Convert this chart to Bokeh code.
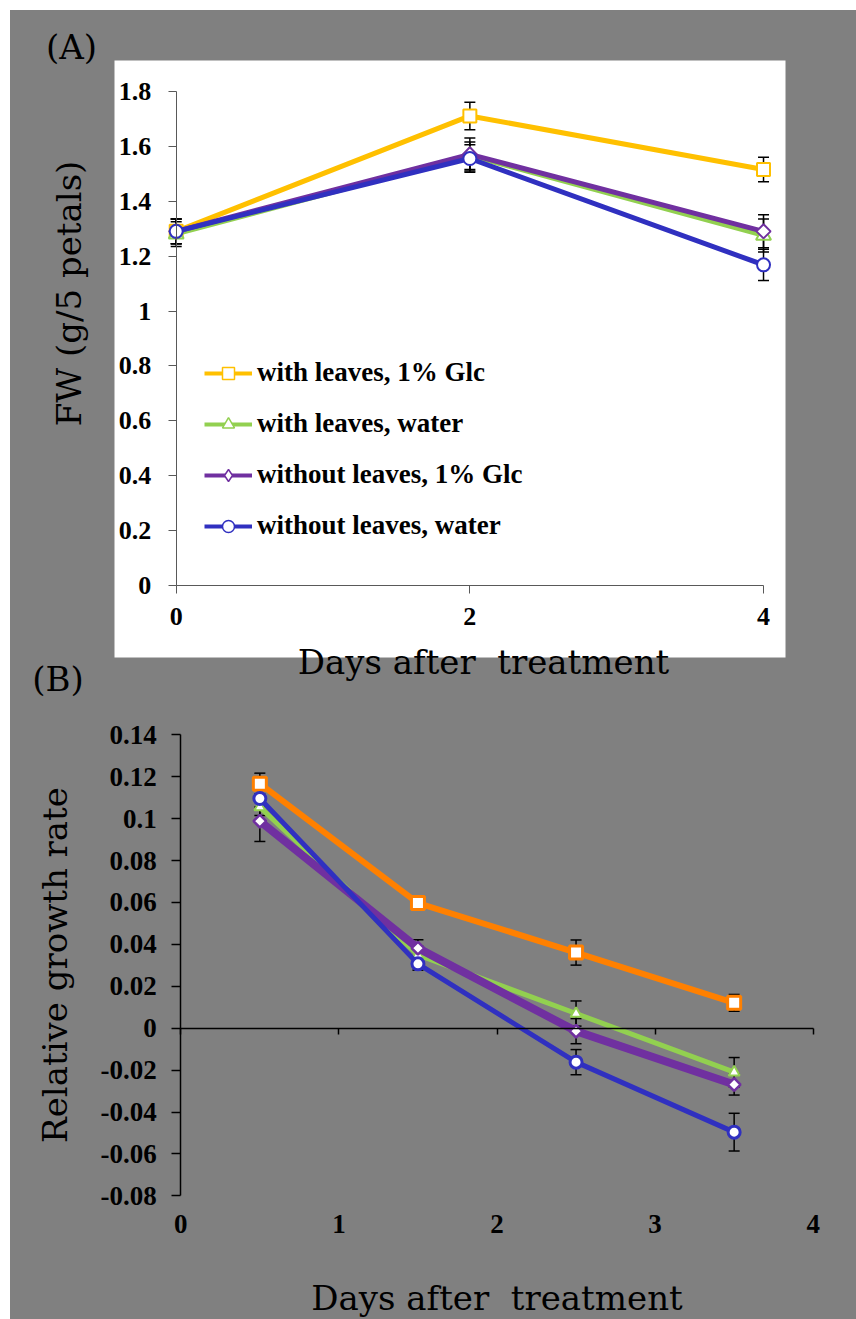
from bokeh.plotting import figure
from bokeh.models import (LinearAxis, FixedTicker, Whisker, TeeHead, ColumnDataSource,
                          BoxAnnotation, Label, Legend, LegendItem, Range1d)
from bokeh.layouts import column
from bokeh.embed import file_html
from bokeh.resources import INLINE

# ---------------- data: panel A (fresh weight) ----------------
days_a = [0, 2, 4]
fw_leaves_glc = [1.29, 1.71, 1.515]
fw_leaves_glc_err = [0.045, 0.05, 0.045]
fw_leaves_water = [1.28, 1.565, 1.275]
fw_leaves_water_err = [0.045, 0.05, 0.06]
fw_noleaves_glc = [1.29, 1.57, 1.29]
fw_noleaves_glc_err = [0.045, 0.06, 0.06]
fw_noleaves_water = [1.29, 1.555, 1.168]
fw_noleaves_water_err = [0.045, 0.05, 0.057]

# ---------------- data: panel B (relative growth rate) ----------------
days_b = [0.5, 1.5, 2.5, 3.5]
rgr_leaves_glc = [0.1167, 0.0597, 0.0361, 0.0121]
rgr_leaves_glc_err = [0.005, 0.002, 0.006, 0.004]
rgr_leaves_water = [0.1055, 0.035, 0.007, -0.021]
rgr_leaves_water_err = [0.004, 0.004, 0.006, 0.007]
rgr_noleaves_glc = [0.0988, 0.0382, -0.0014, -0.0269]
rgr_noleaves_glc_err = [0.0097, 0.004, 0.006, 0.005]
rgr_noleaves_water = [0.1096, 0.0307, -0.0162, -0.0496]
rgr_noleaves_water_err = [0.004, 0.003, 0.006, 0.009]

series_labels = ["with leaves, 1% Glc", "with leaves, water",
                 "without leaves, 1% Glc", "without leaves, water"]

# tick labels
x_ticks_a = [0, 2, 4]
x_tick_labels_a = ["0", "2", "4"]
y_ticks_a = [0, 0.2, 0.4, 0.6, 0.8, 1, 1.2, 1.4, 1.6, 1.8]
y_tick_labels_a = ["0", "0.2", "0.4", "0.6", "0.8", "1", "1.2", "1.4", "1.6", "1.8"]
x_ticks_b = [0, 1, 2, 3, 4]
x_tick_labels_b = ["0", "1", "2", "3", "4"]
y_ticks_b = [-0.08, -0.06, -0.04, -0.02, 0, 0.02, 0.04, 0.06, 0.08, 0.1, 0.12, 0.14]
y_tick_labels_b = ["-0.08", "-0.06", "-0.04", "-0.02", "0", "0.02", "0.04", "0.06",
                   "0.08", "0.1", "0.12", "0.14"]

# ---------------- style ----------------
GRAY = "#808080"
YELLOW = "#FFC000"
ORANGE = "#FF8000"
GREEN = "#92D050"
PURPLE = "#7030A0"
BLUE = "#3030C0"
TICK_FONT = "Liberation Serif"
TITLE_FONT = "DejaVu Serif"
NAN = float("nan")

W = 846
HA = 692
HB = 617


def base_figure(h, xr, yr):
    p = figure(width=W, height=h, x_range=xr, y_range=yr, output_backend="svg",
               toolbar_location=None, x_axis_location=None, y_axis_location=None,
               min_border=0, background_fill_color=GRAY, border_fill_color=GRAY,
               outline_line_color=None)
    p.grid.visible = False
    return p


def style_axis(ax, color, lw, tick_out, font_size, standoff):
    ax.axis_line_color = color
    ax.axis_line_width = lw
    ax.major_tick_line_color = color
    ax.major_tick_line_width = lw
    ax.major_tick_out = tick_out
    ax.major_tick_in = 0
    ax.minor_tick_out = 0
    ax.minor_tick_in = 0
    ax.major_label_text_font = TICK_FONT
    ax.major_label_text_font_style = "bold"
    ax.major_label_text_font_size = font_size
    ax.major_label_text_color = "black"
    ax.major_label_standoff = standoff


def set_title(ax, text, standoff):
    ax.axis_label = text
    ax.axis_label_text_font = TITLE_FONT
    ax.axis_label_text_font_style = "normal"
    ax.axis_label_text_font_size = "34px"
    ax.axis_label_text_color = "black"
    ax.axis_label_standoff = standoff


def title_axis(loc, bounds, text, standoff):
    ax = LinearAxis(fixed_location=loc, bounds=bounds, ticker=FixedTicker(ticks=[]))
    ax.axis_line_color = None
    ax.major_tick_out = 0
    ax.major_tick_in = 0
    ax.minor_tick_out = 0
    set_title(ax, text, standoff)
    return ax


def whisker(p, xs, ys, errs):
    src = ColumnDataSource(dict(x=xs, upper=[y + e for y, e in zip(ys, errs)],
                                lower=[y - e for y, e in zip(ys, errs)]))
    w = Whisker(source=src, base="x", upper="upper", lower="lower", dimension="height",
                line_color="black", line_width=1.5, level="underlay",
                upper_head=TeeHead(size=11, line_color="black", line_width=1.5),
                lower_head=TeeHead(size=11, line_color="black", line_width=1.5))
    p.add_layout(w)


# ================= Panel A =================
ax0, axs = 165.7, 146.83      # pixel of x=0 (from left), px per day
ay0, ays = 575.3, 274.78      # pixel of y=0 (from top), px per g
pA = base_figure(HA, Range1d(-ax0 / axs, (W - ax0) / axs),
                 Range1d(-(HA - ay0) / ays, ay0 / ays))

# white chart area
pA.add_layout(BoxAnnotation(left=(104 - ax0) / axs, right=(775 - ax0) / axs,
                            top=(ay0 - 50) / ays, bottom=(ay0 - 647) / ays,
                            fill_color="white", fill_alpha=1, line_color=None,
                            level="image"))

series_a = [
    (fw_leaves_glc, fw_leaves_glc_err, YELLOW, "square", 0, 13, 5, "square", 10),
    (fw_leaves_water, fw_leaves_water_err, GREEN, "triangle", 0, 15, 4.5, "triangle", 13),
    (fw_noleaves_glc, fw_noleaves_glc_err, PURPLE, "square", 0.785398, 10, 5, "diamond", 15),
    (fw_noleaves_water, fw_noleaves_water_err, BLUE, "circle", 0, 13, 5, "circle", 11),
]
for s in series_a:
    whisker(pA, days_a, s[0], s[1])
items = []
for (ys, errs, col, mk, ang, ms, lw, lmk, lms), lab in zip(series_a, series_labels):
    pA.line(days_a, ys, line_color=col, line_width=lw)
    pA.scatter(days_a, ys, marker=mk, angle=ang, size=ms, fill_color="white",
               line_color=col, line_width=2)
    # legend swatches: NaN points draw nothing in the plot, only in the legend
    gl = pA.line(x=[NAN], y=[NAN], line_color=col, line_width=4)
    gs = pA.scatter(x=[NAN], y=[NAN], marker=lmk, size=lms, fill_color="white",
                    line_color=col, line_width=1.5)
    items.append(LegendItem(label=lab, renderers=[gl, gs]))

legend = Legend(items=items, location=(194, 161), orientation="vertical",
                padding=0, margin=0, spacing=20, glyph_width=48, glyph_height=30,
                label_height=30, label_standoff=5, label_text_font=TICK_FONT,
                label_text_font_style="bold", label_text_font_size="27px",
                label_text_color="black",
                border_line_color=None, background_fill_alpha=0)
pA.add_layout(legend)

yaxA = LinearAxis(fixed_location=0, bounds=(0, 1.8), ticker=FixedTicker(ticks=y_ticks_a),
                  major_label_overrides=dict(zip(y_ticks_a, y_tick_labels_a)))
style_axis(yaxA, "#595959", 1, 8, "26px", 17)
pA.add_layout(yaxA, "left")
xaxA = LinearAxis(fixed_location=0, bounds=(0, 4), ticker=FixedTicker(ticks=x_ticks_a),
                  major_label_overrides=dict(zip(x_ticks_a, x_tick_labels_a)))
style_axis(xaxA, "#595959", 1, 8, "26px", 14)
pA.add_layout(xaxA, "below")

cA = (ay0 - 283) / ays
pA.add_layout(title_axis(0, (cA - 0.1, cA + 0.1), "FW (g/5 petals)", 88), "left")
cAx = (473 - ax0) / axs
pA.add_layout(title_axis(0, (cAx - 0.2, cAx + 0.2), "Days after \u00a0treatment", 56), "below")

pA.add_layout(Label(x=(61 - ax0) / axs, y=(ay0 - 36) / ays, text="(A)",
                    text_font=TITLE_FONT, text_font_size="34px", text_color="black",
                    text_align="center", text_baseline="middle"))
pA.add_layout(Label(x=(47.5 - ax0) / axs, y=(ay0 - 668) / ays, text="(B)",
                    text_font=TITLE_FONT, text_font_size="34px", text_color="black",
                    text_align="center", text_baseline="middle"))

# ================= Panel B =================
bx0, bxs = 170.3, 158.1
by0, bys = 325.7, 2095.7
pB = base_figure(HB, Range1d(-bx0 / bxs, (W - bx0) / bxs),
                 Range1d(-(HB - by0) / bys, by0 / bys))

series_b = [
    (rgr_leaves_glc, rgr_leaves_glc_err, ORANGE, "square", 0, 13, 6, 3),
    (rgr_leaves_water, rgr_leaves_water_err, GREEN, "triangle", 0, 11, 5, 2),
    (rgr_noleaves_glc, rgr_noleaves_glc_err, PURPLE, "square", 0.785398, 9, 8, 2.5),
    (rgr_noleaves_water, rgr_noleaves_water_err, BLUE, "circle", 0, 12, 5, 3),
]
for s in series_b:
    whisker(pB, days_b, s[0], s[1])
for ys, errs, col, mk, ang, ms, lw, mlw in series_b:
    pB.line(days_b, ys, line_color=col, line_width=lw)
    pB.scatter(days_b, ys, marker=mk, angle=ang, size=ms, fill_color="white",
               line_color=col, line_width=mlw)

yaxB = LinearAxis(fixed_location=0, bounds=(-0.08, 0.14), ticker=FixedTicker(ticks=y_ticks_b),
                  major_label_overrides=dict(zip(y_ticks_b, y_tick_labels_b)))
style_axis(yaxB, "black", 1.5, 9, "27px", 15)
set_title(yaxB, "Relative growth rate", 22)
pB.add_layout(yaxB, "left")

# x axis drawn through y = 0, tick labels placed low (below the plot area)
xaxB = LinearAxis(fixed_location=0, bounds=(0, 4), ticker=FixedTicker(ticks=x_ticks_b),
                  major_label_overrides=dict(zip(x_ticks_b, x_tick_labels_b)))
style_axis(xaxB, "black", 1.5, 6, "27px", 181)
set_title(xaxB, "Days after \u00a0treatment", 41)
pB.add_layout(xaxB, "below")

layout = column(pA, pB, spacing=0, margin=(10, 0, 0, 10),
                styles={"background-color": GRAY})
open("out.html", "w").write(file_html(layout, INLINE))
